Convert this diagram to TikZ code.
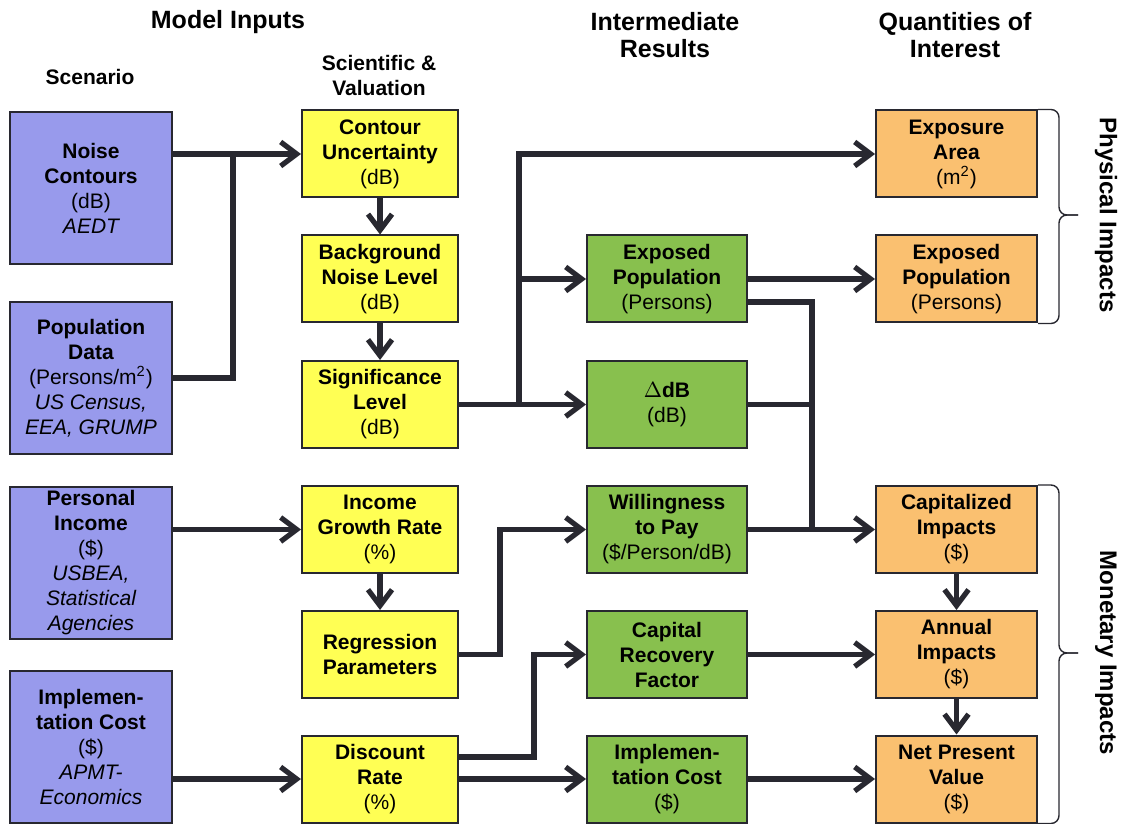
\documentclass[tikz,border=0pt]{standalone}
\usepackage{fontspec}
\setmainfont{Liberation Sans}
\usepackage{tikz}
\usetikzlibrary{arrows.meta}

\definecolor{scenblue}{RGB}{152,154,236}
\definecolor{sciyellow}{RGB}{255,255,84}
\definecolor{intgreen}{RGB}{136,192,78}
\definecolor{qoiorange}{RGB}{250,192,112}
\definecolor{edge}{RGB}{40,40,48}

\tikzset{
  box/.style={draw=edge, line width=1pt, inner sep=0pt, align=center,
    font=\fontsize{10.5}{12.5}\selectfont\bfseries},
  scen/.style={box, fill=scenblue, minimum width=81pt, minimum height=76pt},
  sci/.style={box, fill=sciyellow, minimum width=78pt, minimum height=43.5pt},
  inter/.style={box, fill=intgreen, minimum width=80pt, minimum height=43.5pt},
  qoi/.style={box, fill=qoiorange, minimum width=80.5pt, minimum height=43.5pt},
  head/.style={align=center, font=\fontsize{12.5}{13.5}\selectfont\bfseries},
  subhead/.style={align=center, font=\fontsize{10.5}{12.5}\selectfont\bfseries},
  side/.style={rotate=-90, font=\fontsize{12}{13}\selectfont\bfseries},
  flow/.style={edge, line width=2.6pt, -{Straight Barb[length=8pt,width=12pt]}},
  link/.style={edge, line width=2.6pt},
  bracket/.style={edge, line width=0.7pt, rounded corners=4pt}
}
\newcommand{\unit}[1]{{\mdseries #1}}

\begin{document}
\begin{tikzpicture}[x=0.5pt, y=-0.5pt]
\useasboundingbox (0,0) rectangle (1121,824);

% headings
\node[head] (hInputs) at (228,22) {Model Inputs};
\node[subhead] (hScen) at (90,77) {Scenario};
\node[subhead] (hSci) at (379,75) {Scientific \&\\Valuation};
\node[head] (hInter) at (665,35) {Intermediate\\Results};
\node[head] (hQoi) at (955,35) {Quantities of\\Interest};

% scenario inputs
\node[scen] (noise) at (91,188) {Noise\\Contours\\\unit{(dB)}\\\unit{\itshape AEDT}};
\node[scen] (popdata) at (91,378) {Population\\Data\\\unit{(Persons/m\textsuperscript{2})}\\\unit{\itshape US Census,}\\\unit{\itshape EEA, GRUMP}};
\node[scen] (income) at (91,563) {Personal\\Income\\\unit{(\$)}\\\unit{\itshape USBEA,}\\\unit{\itshape Statistical}\\\unit{\itshape Agencies}};
\node[scen] (implin) at (91,747) {Implemen-\\tation Cost\\\unit{(\$)}\\\unit{\itshape APMT-}\\\unit{\itshape Economics}};

% scientific and valuation inputs
\node[sci] (contour) at (380,154) {Contour\\Uncertainty\\\unit{(dB)}};
\node[sci] (backgr) at (380,279) {Background\\Noise Level\\\unit{(dB)}};
\node[sci] (signif) at (380,404.5) {Significance\\Level\\\unit{(dB)}};
\node[sci] (growth) at (380,529.5) {Income\\Growth Rate\\\unit{(\%)}};
\node[sci] (regress) at (380,654.5) {Regression\\Parameters};
\node[sci] (discount) at (380,779) {Discount\\Rate\\\unit{(\%)}};

% intermediate results
\node[inter] (exppop) at (667,279) {Exposed\\Population\\\unit{(Persons)}};
\node[inter] (deltadb) at (667,404.5) {$\Delta$dB\\\unit{(dB)}};
\node[inter] (wtp) at (667,529.5) {Willingness\\to Pay\\\unit{(\$/Person/dB)}};
\node[inter] (crf) at (667,654.5) {Capital\\Recovery\\Factor};
\node[inter] (implres) at (667,779) {Implemen-\\tation Cost\\\unit{(\$)}};

% quantities of interest
\node[qoi] (area) at (956.5,154) {Exposure\\Area\\\unit{(m\textsuperscript{2})}};
\node[qoi] (exppopq) at (956.5,279) {Exposed\\Population\\\unit{(Persons)}};
\node[qoi] (capimp) at (956.5,529.5) {Capitalized\\Impacts\\\unit{(\$)}};
\node[qoi] (annual) at (956.5,654.5) {Annual\\Impacts\\\unit{(\$)}};
\node[qoi] (npv) at (956.5,779) {Net Present\\Value\\\unit{(\$)}};

% junctions
\coordinate (jNoise) at (233,154);
\coordinate (jSig) at (519,404.5);
\coordinate (jReg) at (500,529.5);
\coordinate (jDisc) at (534,654.5);
\coordinate (jCap) at (812,529.5);

% scenario to valuation
\draw[flow] (noise.east |- contour) -- (contour.west);
\draw[link] (popdata.east) -| (jNoise);
\draw[flow] (income.east |- growth) -- (growth.west);
\draw[flow] (implin.east |- discount) -- (discount.west);

% valuation chain
\draw[flow] (contour) -- (backgr);
\draw[flow] (backgr) -- (signif);
\draw[flow] (growth) -- (regress);

% to intermediate results
\draw[flow] (signif.east) -- (deltadb.west);
\draw[flow] (jSig) |- (exppop.west);
\draw[flow] (jSig) |- (area.west);
\draw[flow] (regress.east) -| (jReg) -- (wtp.west);
\draw[flow] ([yshift=11pt]discount.east) -| (jDisc) -- (crf.west);
\draw[flow] (discount.east) -- (implres.west);

% to quantities of interest
\draw[flow] (exppop.east) -- (exppopq.west);
\draw[link] ([yshift=-11.5pt]exppop.east) -| (jCap);
\draw[link] (deltadb.east) -- (deltadb.east -| jCap);
\draw[flow] (wtp.east) -- (capimp.west);
\draw[flow] (crf.east) -- (annual.west);
\draw[flow] (implres.east) -- (npv.west);
\draw[flow] (capimp) -- (annual);
\draw[flow] (annual) -- (npv);

% braces
\coordinate (physTip) at (1078,215);
\coordinate (physBar) at (1059,215);
\coordinate (monTip) at (1078,653);
\coordinate (monBar) at (1059,653);
\draw[bracket] (area.north east) -| (physBar) -- (physTip);
\draw[bracket] (exppopq.south east) -| (physBar) -- (physTip);
\draw[bracket] (capimp.north east) -| (monBar) -- (monTip);
\draw[bracket] (npv.south east) -| (monBar) -- (monTip);
\node[side] (phys) at (1106,215) {Physical Impacts};
\node[side] (money) at (1106,653) {Monetary Impacts};
\end{tikzpicture}
\end{document}
